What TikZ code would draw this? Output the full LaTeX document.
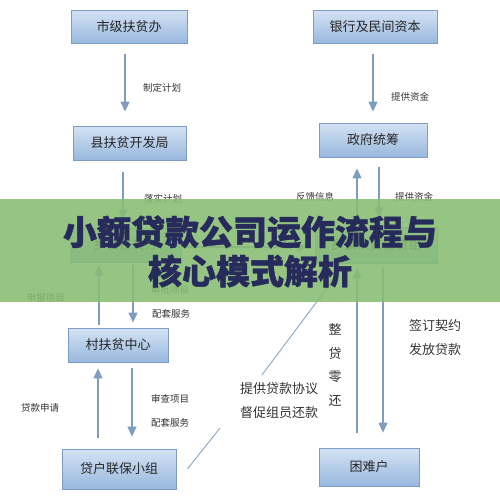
\documentclass[tikz,border=0pt]{standalone}
\usepackage{fontspec}
\newfontfamily\cjk{Noto Sans CJK SC}[BoldFeatures={FakeBold=1.3}]
\usetikzlibrary{arrows.meta}
\definecolor{boxtop}{HTML}{D3E2F3}
\definecolor{boxbot}{HTML}{98B8DE}
\definecolor{boxline}{HTML}{7E9DC4}
\definecolor{arrcol}{HTML}{7F9DBE}
\definecolor{labcol}{HTML}{333333}
\definecolor{bandcol}{RGB}{135,188,114}
\definecolor{titlecol}{HTML}{272B5B}
\tikzset{
  box/.style={draw=boxline, line width=0.8pt, top color=boxtop, bottom color=boxbot,
    font=\cjk\fontsize{13}{13}\selectfont, text=black!85, inner sep=0pt},
  arr/.style={draw=arrcol, line width=1.2pt, -{Triangle[width=9pt,length=10pt]}},
  ln/.style={draw=arrcol, line width=1.2pt},
  lab/.style={font=\cjk\fontsize{9.5}{9.5}\selectfont, text=labcol, inner sep=0pt},
  blab/.style={font=\cjk\fontsize{13}{24}\selectfont, text=labcol, inner sep=0pt, align=center},
  title/.style={font=\cjk\bfseries\fontsize{34}{34}\selectfont, text=titlecol, inner sep=0pt}
}
\begin{document}
\begin{tikzpicture}[x=1pt,y=-1pt]
\path[use as bounding box, fill=white] (0,0) rectangle (500,503);
% boxes
\node[box, minimum width=116pt, minimum height=33pt] (A) at (129,27) {市级扶贫办};
\node[box, minimum width=113pt, minimum height=34pt] (B) at (129.5,143) {县扶贫开发局};
\node[box, minimum width=111pt, minimum height=34pt] (C) at (125.5,245) {乡镇扶贫办};
\node[box, minimum width=100pt, minimum height=34pt] (D) at (118,345) {村扶贫中心};
\node[box, minimum width=114pt, minimum height=40pt] (E) at (119,469) {贷户联保小组};
\node[box, minimum width=124pt, minimum height=33pt] (F) at (375,27) {银行及民间资本};
\node[box, minimum width=108pt, minimum height=34pt] (G) at (373,140) {政府统筹};
\node[box, minimum width=122pt, minimum height=36pt] (H) at (376,245) {乡镇扶贫信贷组};
\node[box, minimum width=100pt, minimum height=38pt] (I) at (369,467) {困难户};
% connectors
\path[arr] ([xshift=-4pt,yshift=-10pt]A.south) -- ([xshift=-4.5pt,yshift=14pt]B.north);
\path[arr] ([xshift=-6.5pt,yshift=-12pt]B.south) -- ([xshift=-2.5pt,yshift=8pt]C.north);
\path[arr] ([xshift=-2pt,yshift=-10pt]F.south) -- ([xshift=0pt,yshift=11pt]G.north);
\path[arr] ([xshift=6pt,yshift=-10pt]G.south) -- ([xshift=3pt,yshift=9pt]H.north);
\path[arr] ([xshift=-19pt,yshift=9pt]H.north) -- ([xshift=-16pt,yshift=-11pt]G.south);
\path[arr] ([yshift=-2pt]C.east) -- ([xshift=-7pt,yshift=-2pt]H.west);
\path[arr] ([xshift=-19pt,yshift=3pt]D.north) -- ([xshift=-26.5pt,yshift=-3pt]C.south);
\path[arr] ([xshift=7.5pt,yshift=-3pt]C.south) -- ([xshift=15pt,yshift=5pt]D.north);
\path[arr] ([xshift=-21pt,yshift=11pt]E.north) -- ([xshift=-20pt,yshift=-6pt]D.south);
\path[arr] ([xshift=14pt,yshift=-6pt]D.south) -- ([xshift=13pt,yshift=12pt]E.north);
\path[arr] ([xshift=-12pt,yshift=15pt]I.north) -- ([xshift=-19pt,yshift=-5pt]H.south);
\path[arr] ([xshift=7pt,yshift=-5pt]H.south) -- ([xshift=14pt,yshift=15pt]I.north);
% labels
\node[lab] (l1) at (162,88) {制定计划};
\node[lab] (l2) at (410,97) {提供资金};
\node[lab] (l3) at (163,199) {落实计划};
\node[lab] (l4) at (315,197) {反馈信息};
\node[lab] (l5) at (414,197) {提供资金};
\node[lab] (l6) at (46,298) {申报项目};
\node[lab] (l7) at (170,290) {审批项目};
\node[lab] (l8) at (171,314) {配套服务};
\node[lab] (l9) at (40,408) {贷款申请};
\node[lab] (l10) at (170,399) {审查项目};
\node[lab] (l11) at (170,423) {配套服务};
\node[blab] (l12) at (279,401) {提供贷款协议\\督促组员还款};
\node[blab] (l13) at (435,337.5) {签订契约\\发放贷款};
\node[blab, font=\cjk\fontsize{13}{23.5}\selectfont] (l14) at (335,365) {整\\贷\\零\\还};
% diagonal line via text
\coordinate (dtop) at (342,268);
\path[ln, line width=0.8pt] ([xshift=11pt]E.east) -- (220,428);
\path[ln, line width=0.8pt] (262,375) -- (dtop);
% banner
\fill[bandcol, fill opacity=0.88] (0,199) rectangle (500,302);
\node[title] (t1) at (250,232) {小额贷款公司运作流程与};
\node[title] (t2) at (250,271) {核心模式解析};
\end{tikzpicture}
\end{document}
